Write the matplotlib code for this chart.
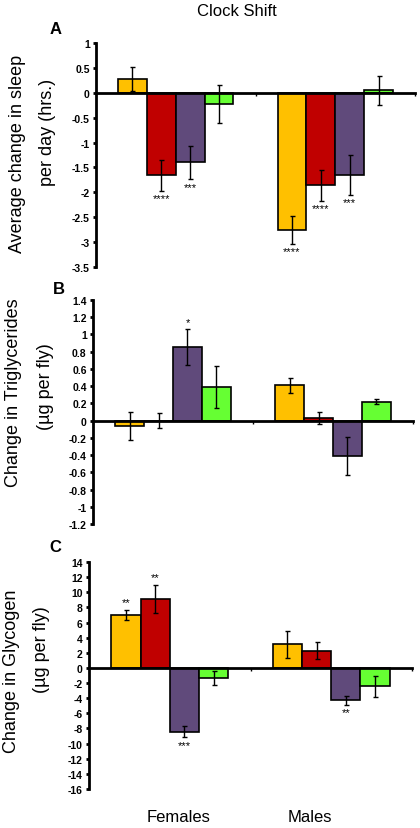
import matplotlib
matplotlib.use("Agg")
import matplotlib.pyplot as plt
import numpy as np

plt.rcParams['font.family'] = ['Liberation Sans', 'DejaVu Sans']

groups = ["Females", "Males"]
series_colors = ["#FFC000", "#C00000", "#604A7B", "#66FF33"]

# Panel A: sleep change (hrs/day); rows = series, cols = [Females, Males]
sleep_vals = [[0.28, -2.75], [-1.66, -1.86], [-1.40, -1.65], [-0.23, 0.05]]
sleep_err = [[0.24, 0.28], [0.31, 0.31], [0.33, 0.40], [0.38, 0.29]]
sleep_stars = [["", "****"], ["****", "****"], ["***", "***"], ["", ""]]
sleep_ticks = [1, 0.5, 0, -0.5, -1, -1.5, -2, -2.5, -3, -3.5]

# Panel B: triglycerides
tg_vals = [[-0.06, 0.41], [0.0, 0.03], [0.85, -0.41], [0.39, 0.22]]
tg_err = [[0.16, 0.09], [0.085, 0.07], [0.21, 0.225], [0.245, 0.03]]
tg_stars = [["", ""], ["", ""], ["*", ""], ["", ""]]
tg_ticks = [1.4, 1.2, 1, 0.8, 0.6, 0.4, 0.2, 0, -0.2, -0.4, -0.6, -0.8, -1, -1.2]

# Panel C: glycogen
gly_vals = [[7.0, 3.1], [9.15, 2.3], [-8.45, -4.3], [-1.35, -2.45]]
gly_err = [[0.7, 1.75], [1.85, 1.15], [0.73, 0.57], [0.93, 1.33]]
gly_stars = [["**", ""], ["**", ""], ["***", "**"], ["", ""]]
gly_ticks = list(range(14, -17, -2))

W, H = 420, 829
fig = plt.figure(figsize=(W / 100, H / 100), dpi=100)

def ax_rect(left, right, top, bottom):
    return [left / W, 1 - bottom / H, (right - left) / W, (bottom - top) / H]

panels = [
    (ax_rect(96, 415, 44, 268), sleep_vals, sleep_err, sleep_stars, sleep_ticks),
    (ax_rect(93, 413, 301, 525), tg_vals, tg_err, tg_stars, tg_ticks),
    (ax_rect(89, 412, 563, 790), gly_vals, gly_err, gly_stars, gly_ticks),
]

bw = 0.181
x = np.arange(len(groups))
for rect, vals, errs, stars, ticks in panels:
    ax = fig.add_axes(rect)
    ymax, ymin = ticks[0], ticks[-1]
    span = ymax - ymin
    for i, (v, e, s, c) in enumerate(zip(vals, errs, stars, series_colors)):
        xs = x + (i - 1.5) * bw
        ax.bar(xs, v, bw, color=c, edgecolor="black", linewidth=1.2, zorder=2)
        ax.errorbar(xs, v, yerr=e, fmt="none", ecolor="black", elinewidth=1.0,
                    capsize=1.8, capthick=1.0, zorder=3)
        for xi, vi, ei, si in zip(xs, v, e, s):
            if si:
                if vi >= 0:
                    ax.text(xi, vi + ei + span * 0.012, si, ha="center", va="bottom",
                            fontsize=8)
                else:
                    ax.text(xi, vi - ei - span * 0.012, si, ha="center", va="top",
                            fontsize=8)
    ax.set_xlim(-0.5, 1.5)
    ax.set_ylim(ymin, ymax)
    ax.set_yticks(ticks)
    ax.set_yticklabels([f"{t:g}" for t in ticks], fontsize=7.5, fontweight="bold")
    ax.spines["top"].set_visible(False)
    ax.spines["right"].set_visible(False)
    ax.spines["left"].set_linewidth(2)
    ax.spines["bottom"].set_position(("data", 0))
    ax.spines["bottom"].set_linewidth(2)
    ax.spines["bottom"].set_zorder(4)
    ax.set_xticks([0.5, 1.5])
    ax.set_xticklabels([])
    ax.tick_params(axis="x", direction="out", length=2.5, width=1)
    ax.tick_params(axis="y", direction="out", length=2.5, width=2, pad=2)
    ax.patch.set_visible(False)

def ft(xp, yp, s, **kw):
    fig.text(xp / W, 1 - yp / H, s, **kw)

ft(237, 11, "Clock Shift", ha="center", va="center", fontsize=12)
ft(56, 29, "A", ha="center", va="center", fontsize=12, fontweight="bold")
ft(59, 289, "B", ha="center", va="center", fontsize=12, fontweight="bold")
ft(55, 547, "C", ha="center", va="center", fontsize=12, fontweight="bold")

ft(18, 154, "Average change in sleep", rotation=90, ha="center", va="center", fontsize=13)
ft(48, 132, "per day (hrs.)", rotation=90, ha="center", va="center", fontsize=13)
ft(14, 393, "Change in Triglycerides", rotation=90, ha="center", va="center", fontsize=13)
ft(45, 387, "(µg per fly)", rotation=90, ha="center", va="center", fontsize=13)
ft(12, 671, "Change in Glycogen", rotation=90, ha="center", va="center", fontsize=13)
ft(42, 650, "(µg per fly)", rotation=90, ha="center", va="center", fontsize=13)

ft(179, 818, groups[0], ha="center", va="center", fontsize=12)
ft(310, 818, groups[1], ha="center", va="center", fontsize=12)

fig.savefig("out.png", dpi=100)
